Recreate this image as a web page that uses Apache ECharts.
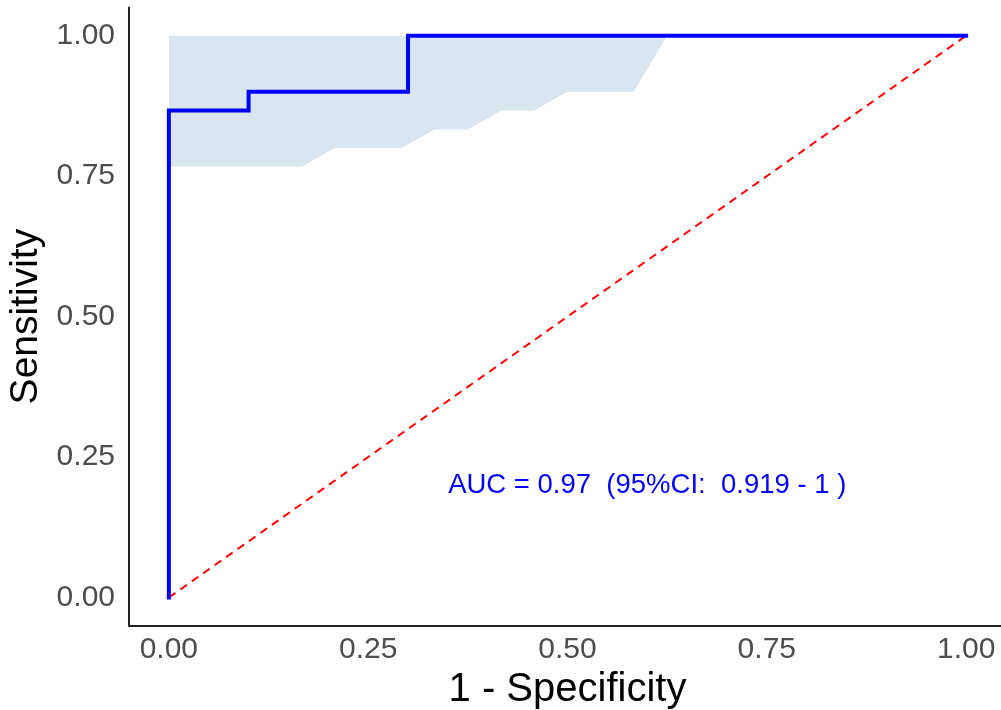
<!doctype html>
<html lang="en">
<head>
    <meta charset="UTF-8">
    <title>ROC</title>
    <script src="https://cdn.jsdelivr.net/npm/echarts@6/dist/echarts.min.js"></script>
    <style>
        html, body { margin: 0; padding: 0; background: #fff; }
        #roc { width: 1001px; height: 710px; }
    </style>
</head>
<body>
<div id="roc"></div>
<script type="text/javascript">
    // ROC curve (1 - specificity, sensitivity)
    var rocFpr = [0, 0, 0.1, 0.1, 0.3, 0.3, 1];
    var rocTpr = [0, 0.867, 0.867, 0.9, 0.9, 1, 1];
    // 95% CI band of sensitivity
    var bandX = [0, 0.167, 0.208, 0.292, 0.333, 0.375, 0.417, 0.458, 0.5, 0.583, 0.625];
    var bandLower = [0.767, 0.767, 0.8, 0.8, 0.833, 0.833, 0.867, 0.867, 0.9, 0.9, 1];
    var bandUpper = [1, 1, 1, 1, 1, 1, 1, 1, 1, 1, 1];
    // reference diagonal
    var refX = [0, 1];
    var refY = [0, 1];
    // ticks
    var xTicks = [0, 0.25, 0.5, 0.75, 1];
    var yTicks = [0, 0.25, 0.5, 0.75, 1];
    // annotation
    var aucText = 'AUC = 0.97  (95%CI:  0.919 - 1 )';
    var aucPos = [0.6, 0.2];

    var pairs = function (xs, ys) {
        return xs.map(function (x, i) { return [x, ys[i]]; });
    };

    var myChart = echarts.init(document.getElementById('roc'));

    var tickLabel = {
        color: '#4D4D4D',
        fontFamily: 'Liberation Sans, Arial, sans-serif',
        fontSize: 30,
        formatter: function (v) { return Number(v).toFixed(2); }
    };

    //CI band: polygon upper edge left->right, lower edge right->left
    var renderBand = function (params, api) {
        var pts = [];
        bandX.forEach(function (x, i) { pts.push(api.coord([x, bandUpper[i]])); });
        for (var i = bandX.length - 1; i >= 0; i--) {
            pts.push(api.coord([bandX[i], bandLower[i]]));
        }
        return {
            type: 'polygon',
            shape: { points: pts },
            style: { fill: '#D9E5EF' }
        };
    };

    var option = {
        animation: false,
        backgroundColor: '#fff',
        grid: { left: 129, right: -5, top: 7.6, bottom: 84.4, outerBoundsMode: 'none' },
        xAxis: {
            type: 'value',
            min: -0.05,
            max: 1.05,
            name: '1 - Specificity',
            nameLocation: 'middle',
            nameGap: 42,
            nameTextStyle: { color: '#000', fontSize: 40, fontFamily: 'Liberation Sans, Arial, sans-serif' },
            axisLine: { show: true, onZero: false, lineStyle: { color: '#222', width: 2 } },
            axisTick: { show: false },
            splitLine: { show: false },
            axisLabel: Object.assign({ margin: 9, customValues: xTicks }, tickLabel)
        },
        yAxis: {
            type: 'value',
            min: -0.05,
            max: 1.05,
            name: 'Sensitivity',
            nameLocation: 'middle',
            nameGap: 80,
            nameTextStyle: { color: '#000', fontSize: 39, fontFamily: 'Liberation Sans, Arial, sans-serif' },
            axisLine: { show: true, onZero: false, lineStyle: { color: '#222', width: 2 } },
            axisTick: { show: false },
            splitLine: { show: false },
            axisLabel: Object.assign({ margin: 14, customValues: yTicks }, tickLabel)
        },
        series: [
            {
                type: 'custom',
                data: [[bandX[0], bandLower[0]]],
                renderItem: renderBand,
                silent: true,
                z: 1
            },
            {
                type: 'line',
                data: pairs(refX, refY),
                symbol: 'none',
                lineStyle: { color: '#FF0000', width: 2, type: [8, 6] },
                z: 2
            },
            {
                type: 'line',
                data: pairs(rocFpr, rocTpr),
                symbol: 'none',
                lineStyle: { color: '#0000FF', width: 4, cap: 'square', join: 'miter' },
                z: 3
            },
            {
                type: 'scatter',
                data: [aucPos],
                symbolSize: 0,
                itemStyle: { color: '#0000FF', opacity: 1 },
                label: {
                    show: true,
                    position: 'inside',
                    formatter: aucText,
                    color: '#0000FF',
                    opacity: 1,
                    textBorderWidth: 0,
                    fontSize: 27.5,
                    fontFamily: 'Liberation Sans, Arial, sans-serif'
                },
                silent: true,
                z: 4
            }
        ]
    };
    myChart.setOption(option);
</script>
</body>
</html>
